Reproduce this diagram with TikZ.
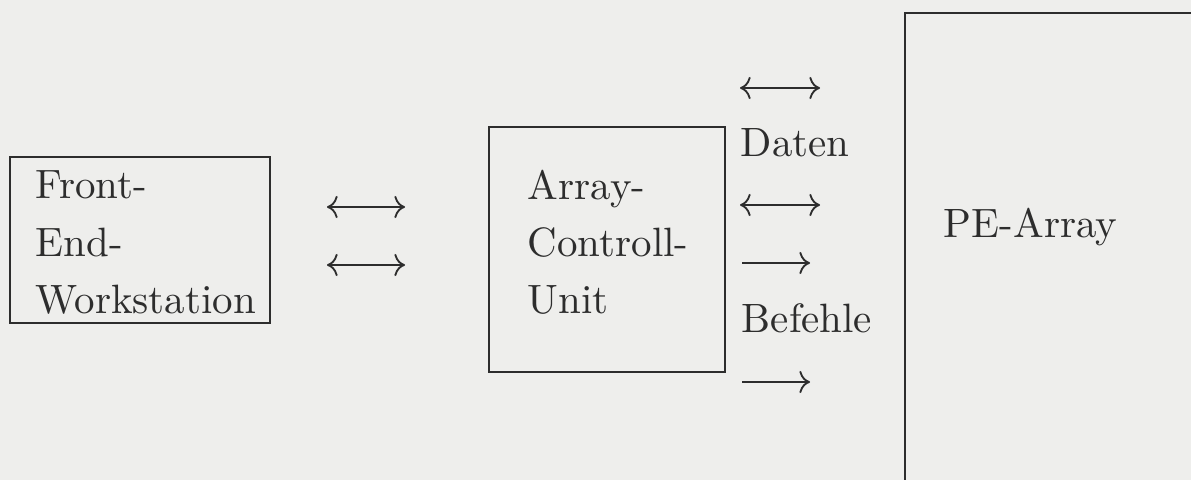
\documentclass[tikz,border=0pt]{standalone}
\usetikzlibrary{arrows.meta,fit}
\definecolor{bgc}{RGB}{238,238,236}
\definecolor{ink}{RGB}{45,45,45}
\begin{document}
\begin{tikzpicture}[x=0.244pt,y=-0.244pt,
  box/.style={draw=ink,line width=0.6pt,inner sep=0pt},
  lbl/.style={text=ink,inner sep=0pt,align=left,font=\fontsize{10}{14}\selectfont},
  conn/.style={draw=ink,line width=0.45pt},
  bi/.style={conn,{Computer Modern Rightarrow}-{Computer Modern Rightarrow}},
  uni/.style={conn,-{Computer Modern Rightarrow}}]
\fill[bgc] (0,0) rectangle (1191,480);
\useasboundingbox (0,0) rectangle (1191,480);
\clip (0,0) rectangle (1191,480);
% boxes
\node[box,fit={(10,157) (270,323)}] (fe) {};
\node[box,fit={(489,127) (725,372)}] (acu) {};
\node[box,fit={(905,13) (1205,495)}] (pe) {};
% texts
\node[lbl,anchor=north west] (fet) at (35,170) {Front-\\End-\\Workstation};
\node[lbl,anchor=north west] (acut) at (527,169) {Array-\\Controll-\\Unit};
\node[lbl,anchor=base west] (pet) at (943,238) {PE-Array};
\node[lbl,anchor=base west] (daten) at (740,157) {Daten};
\node[lbl,anchor=base west] (befehle) at (741,333) {Befehle};
% arrow end points
\coordinate (a1) at (327,207); \coordinate (b1) at (405,207);
\coordinate (a2) at (327,265); \coordinate (b2) at (405,265);
\coordinate (c1) at (740,88);  \coordinate (d1) at (820,88);
\coordinate (c2) at (740,205); \coordinate (d2) at (820,205);
\coordinate (c3) at (742,263); \coordinate (d3) at (810,263);
\coordinate (c4) at (742,382); \coordinate (d4) at (810,382);
\draw[bi] (a1) -- (b1);
\draw[bi] (a2) -- (b2);
\draw[bi] (c1) -- (d1);
\draw[bi] (c2) -- (d2);
\draw[uni] (c3) -- (d3);
\draw[uni] (c4) -- (d4);
\end{tikzpicture}
\end{document}
